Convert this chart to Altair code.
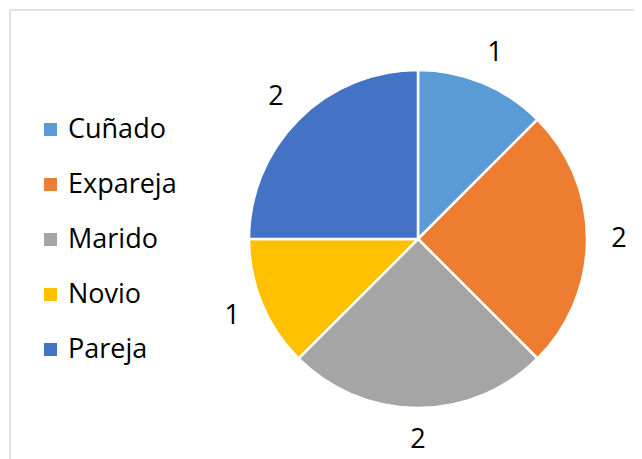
import altair as alt
import pandas as pd

categories = ["Cuñado", "Expareja", "Marido", "Novio", "Pareja"]
values = [1, 2, 2, 1, 2]
colors = ["#5B9BD5", "#ED7D31", "#A5A5A5", "#FFC000", "#4472C4"]

df = pd.DataFrame({"cat": categories, "value": values, "order": list(range(len(values)))})

FONT = "Open Sans"
CX, CY = 408, 229
W, H = 624, 449

base = alt.Chart(df).encode(
    theta=alt.Theta("value:Q", stack=True),
    order=alt.Order("order:Q"),
)

pie = base.mark_arc(radius=169, stroke="white", strokeWidth=2.5).encode(
    color=alt.Color(
        "cat:N",
        scale=alt.Scale(domain=categories, range=colors),
        sort=categories,
        legend=alt.Legend(
            title=None,
            orient="none",
            legendX=27,
            legendY=106,
            symbolType="square",
            symbolSize=170,
            symbolStrokeWidth=0,
            labelFont=FONT,
            labelFontSize=27,
            labelColor="#000000",
            labelOffset=4,
            rowPadding=27,
        ),
    ),
    x=alt.value(CX),
    y=alt.value(CY),
)

labels = base.mark_text(radius=201, font=FONT, fontSize=27, color="#000000").encode(
    text=alt.Text("value:Q"),
    x=alt.value(CX),
    y=alt.value(CY),
)

frame = pd.DataFrame({"k": [0]})
top_line = alt.Chart(frame).mark_rule(color="#D9D9D9", strokeWidth=1.5).encode(
    x=alt.value(0), x2=alt.value(W + 20), y=alt.value(0)
)
left_line = alt.Chart(frame).mark_rule(color="#D9D9D9", strokeWidth=1.5).encode(
    x=alt.value(0), y=alt.value(0), y2=alt.value(H + 20)
)

chart = (
    alt.layer(top_line, left_line, pie, labels)
    .properties(
        width=W,
        height=H,
        autosize=alt.AutoSizeParams(type="none"),
        padding={"left": 2, "top": 2, "right": 0, "bottom": 0},
    )
    .configure_view(stroke=None)
)

chart.save("out.html", embed_options={"renderer": "svg", "actions": False})
